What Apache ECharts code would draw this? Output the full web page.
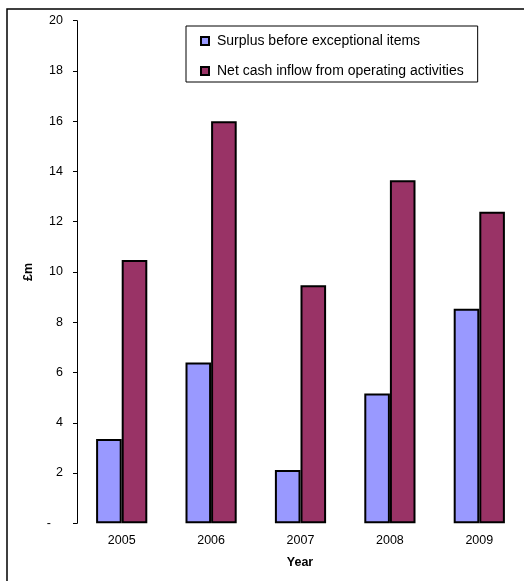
<!DOCTYPE html>
<html>
<head>
<meta charset="utf-8">
<script src="https://cdn.jsdelivr.net/npm/echarts@6/dist/echarts.min.js"></script>
<style>
  html, body { margin: 0; padding: 0; background: #fff; }
  #chart { width: 524px; height: 581px; }
</style>
</head>
<body>
<div id="chart"></div>
<script>
// Annual figures, £m
const years = ['2005', '2006', '2007', '2008', '2009'];
const surplusBeforeExceptional = [3.35, 6.4, 2.12, 5.17, 8.54];
const netCashInflowOperating = [10.48, 16.0, 9.47, 13.65, 12.4];
const seriesNames = ['Surplus before exceptional items', 'Net cash inflow from operating activities'];
const yTickLabels = ['-', '2', '4', '6', '8', '10', '12', '14', '16', '18', '20'];

const FONT = '"Liberation Sans", Arial, sans-serif';
const AXIS_FS = 12.5;
const chart = echarts.init(document.getElementById('chart'), null, { renderer: 'canvas' });

chart.setOption({
  backgroundColor: '#ffffff',
  animation: false,
  textStyle: { fontFamily: FONT, color: '#000' },
  graphic: [{
    // chart frame (runs past the right and bottom edges)
    type: 'rect',
    shape: { x: 7, y: 9, width: 700, height: 700 },
    style: { fill: 'none', stroke: '#000', lineWidth: 1.5 },
    silent: true,
    z: -1
  }, {
    type: 'text',
    x: 300,
    y: 563,
    style: {
      text: 'Year', font: 'bold ' + AXIS_FS + 'px ' + FONT, fill: '#000',
      align: 'center', verticalAlign: 'middle'
    }
  }],
  legend: {
    orient: 'vertical',
    left: 186,
    top: 26,
    padding: [8, 14, 4, 14],
    itemGap: 16,
    itemWidth: 8,
    itemHeight: 8,
    borderColor: '#000',
    borderWidth: 1,
    icon: 'rect',
    textStyle: { fontFamily: FONT, fontSize: 14, color: '#000', padding: [0, 0, 0, 3] },
    itemStyle: { borderColor: '#000', borderWidth: 2 },
    data: seriesNames
  },
  grid: { left: 77, right: 0, top: 20.7, bottom: 57.7, containLabel: false },
  xAxis: {
    type: 'category',
    data: years,
    axisLine: { show: false },
    axisTick: { show: false },
    axisLabel: { fontFamily: FONT, fontSize: AXIS_FS, color: '#000', margin: 11 }
  },
  yAxis: {
    type: 'value',
    min: 0,
    max: 20,
    interval: 2,
    name: '£m',
    nameLocation: 'middle',
    nameGap: 42,
    nameRotate: 90,
    nameTextStyle: { fontFamily: FONT, fontSize: AXIS_FS, fontWeight: 'bold', color: '#000' },
    axisLine: { show: true, lineStyle: { color: '#000', width: 1 } },
    axisTick: { show: true, length: 4, lineStyle: { color: '#000', width: 1 } },
    splitLine: { show: false },
    axisLabel: {
      fontFamily: FONT, fontSize: AXIS_FS, color: '#000', margin: 14,
      formatter: function (v) {
        const s = yTickLabels[Math.round(v / 2)];
        return v === 0 ? '{d|' + s + '}' : s;
      },
      rich: { d: { fontFamily: FONT, fontSize: AXIS_FS, color: '#000', padding: [0, 12, 0, 0] } }
    }
  },
  series: [{
    name: seriesNames[0],
    type: 'bar',
    data: surplusBeforeExceptional,
    barWidth: 25.6,
    barGap: '0%',
    itemStyle: { color: '#9999FF', borderColor: '#000', borderWidth: 2 }
  }, {
    name: seriesNames[1],
    type: 'bar',
    data: netCashInflowOperating,
    barWidth: 25.6,
    barGap: '0%',
    itemStyle: { color: '#993366', borderColor: '#000', borderWidth: 2 }
  }]
});
</script>
</body>
</html>
